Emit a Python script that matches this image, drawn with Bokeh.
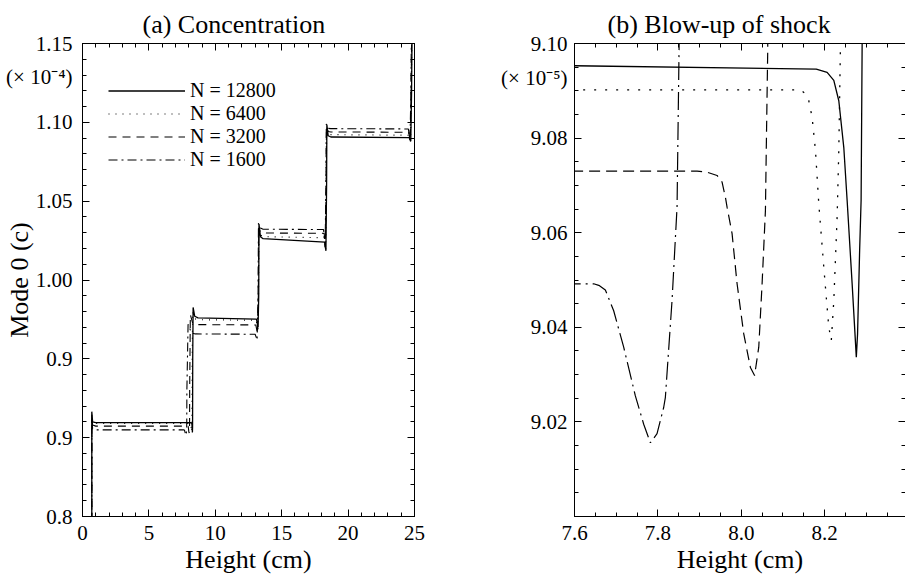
from bokeh.plotting import figure
from bokeh.models import (ColumnDataSource, Legend, LegendItem, LinearAxis, FixedTicker,
                          PrintfTickFormatter)
from bokeh.layouts import row
from bokeh.embed import file_html
from bokeh.resources import INLINE

# ---------------- data (concentration in units of 1e-4) ----------------
height_12800 = [0.00, 0.70, 0.70, 0.76, 1.00, 7.60, 8.18, 8.206, 8.222, 8.234, 8.246, 8.254, 8.266,
                8.276, 8.279, 8.284, 8.2875, 8.290, 8.300, 8.33, 8.45, 8.70, 13.10, 13.22, 13.27,
                13.29, 13.40, 13.60, 18.25, 18.33, 18.38, 18.40, 18.50, 18.70, 24.60, 24.72, 24.78,
                24.82, 25.00]
conc_12800 = [0.8000, 0.8000, 0.9165, 0.9100, 0.90960, 0.90953, 0.90946, 0.90939, 0.90922, 0.90879,
              0.90780, 0.90668, 0.90492, 0.90337, 0.90386, 0.90563, 0.90668, 0.9100, 0.9500, 0.9826,
              0.9770, 0.9760, 0.9752, 0.9700, 0.9900, 1.0355, 1.0275, 1.0262, 1.0240, 1.0185, 1.0600,
              1.0985, 1.0915, 1.0907, 1.0903, 1.0880, 1.1200, 1.1600, 1.1600]

height_6400 = [0.00, 0.70, 0.70, 0.76, 1.00, 7.60, 8.142, 8.154, 8.162, 8.170, 8.178, 8.186, 8.198,
               8.210, 8.216, 8.222, 8.230, 8.234, 8.238, 8.26, 8.30, 8.45, 8.70, 13.08, 13.20, 13.25,
               13.28, 13.40, 13.60, 18.22, 18.31, 18.36, 18.38, 18.50, 18.70, 24.58, 24.70, 24.76,
               24.80, 25.00]
conc_6400 = [0.8000, 0.8000, 0.9150, 0.9095, 0.90905, 0.90902, 0.90902, 0.90894, 0.90879, 0.90844,
             0.90774, 0.90661, 0.90527, 0.90400, 0.90372, 0.90456, 0.90633, 0.90774, 0.9100, 0.9500,
             0.9800, 0.9755, 0.9748, 0.9745, 0.9690, 0.9900, 1.0340, 1.0285, 1.0275, 1.0268, 1.0190,
             1.0600, 1.0975, 1.0928, 1.0922, 1.0918, 1.0880, 1.1200, 1.1600, 1.1600]

height_3200 = [0.00, 0.70, 0.70, 0.76, 1.00, 7.60, 7.894, 7.918, 7.942, 7.954, 7.962, 7.966, 7.978,
               7.990, 8.006, 8.022, 8.032, 8.042, 8.050, 8.058, 8.060, 8.0635, 8.07, 8.12, 8.30, 8.60,
               13.05, 13.18, 13.24, 13.27, 13.40, 13.60, 18.20, 18.29, 18.35, 18.37, 18.50, 18.70,
               24.56, 24.68, 24.75, 24.79, 25.00]
conc_3200 = [0.8000, 0.8000, 0.9140, 0.9080, 0.90732, 0.90730, 0.90730, 0.90728, 0.90721, 0.90707,
             0.90675, 0.90654, 0.90598, 0.90492, 0.90386, 0.90315, 0.90298, 0.90358, 0.90492, 0.90647,
             0.90774, 0.90985, 0.9300, 0.9780, 0.9725, 0.9717, 0.9715, 0.9660, 0.9900, 1.0330, 1.0305,
             1.0298, 1.0296, 1.0200, 1.0600, 1.0970, 1.0942, 1.0939, 1.0937, 1.0880, 1.1200, 1.1600,
             1.1600]

height_1600 = [0.00, 0.70, 0.70, 0.76, 1.00, 7.60, 7.646, 7.660, 7.674, 7.694, 7.718, 7.746, 7.766,
               7.782, 7.798, 7.814, 7.818, 7.834, 7.846, 7.851, 7.86, 7.95, 8.20, 8.50, 13.00, 13.15,
               13.22, 13.25, 13.40, 13.60, 18.15, 18.27, 18.33, 18.36, 18.50, 18.70, 24.54, 24.66,
               24.73, 24.77, 25.00]
conc_1600 = [0.8000, 0.8000, 0.9130, 0.9060, 0.90495, 0.90492, 0.90492, 0.90488, 0.90479, 0.90435,
             0.90358, 0.90255, 0.90195, 0.90156, 0.90175, 0.90231, 0.90252, 0.90457, 0.90654, 0.9100,
             0.9300, 0.9720, 0.9665, 0.9658, 0.9656, 0.9620, 0.9900, 1.0360, 1.0330, 1.0322, 1.0320,
             1.0210, 1.0600, 1.0990, 1.0962, 1.0960, 1.0958, 1.0880, 1.1200, 1.1600, 1.1600]

series_labels = ["N = 12800", "N = 6400", "N = 3200", "N = 1600"]

left_xticks = [0, 5, 10, 15, 20, 25]
left_yticks = [0.85, 0.90, 0.95, 1.00, 1.05, 1.10, 1.15]
left_ytick_labels = ["0.8", "0.9", "0.9", "1.00", "1.05", "1.10", "1.15"]
right_yticks = [9.00, 9.02, 9.04, 9.06, 9.08, 9.10]
right_ytick_labels = ["", "9.02", "9.04", "9.06", "9.08", "9.10"]
right_xticks = [7.6, 7.8, 8.0, 8.2]

# ---------------- styling ----------------
SERIF = "Liberation Serif"
styles = [dict(line_dash="solid", line_width=1.3),
          dict(line_dash="1 6", line_width=1.2),
          dict(line_dash="8 6", line_width=1.1),
          dict(line_dash="9 4 2 4", line_width=1.1)]
styles_right = [dict(line_dash="solid", line_width=1.3),
                dict(line_dash="2 9", line_width=1.3),
                dict(line_dash="11 6", line_width=1.2),
                dict(line_dash="18 5 2 5", line_width=1.2)]

sources = []
for h, c in [(height_12800, conc_12800), (height_6400, conc_6400),
             (height_3200, conc_3200), (height_1600, conc_1600)]:
    sources.append(ColumnDataSource(data=dict(h=h, c4=c, c5=[v * 10 for v in c])))


def add_tick_axes(p, side, majors, minors, line=True):
    """Two label-free axes: minor ticks (short) and major ticks (long), both pointing inward."""
    for pos, length, show_line in ((minors, 4, line), (majors, 7, False)):
        ax = LinearAxis(ticker=FixedTicker(ticks=[], minor_ticks=pos))
        ax.major_tick_in = 0
        ax.major_tick_out = 0
        ax.minor_tick_in = length
        ax.minor_tick_out = 0
        ax.major_label_standoff = 0
        ax.minor_tick_line_color = "black"
        ax.axis_line_color = "black" if show_line else None
        p.add_layout(ax, side)


def add_label_axis(p, side, ticks, labels, standoff, axis_label=None, label_standoff=0, fmt=None):
    ax = LinearAxis(ticker=FixedTicker(ticks=ticks, minor_ticks=[]))
    if fmt is not None:
        ax.formatter = PrintfTickFormatter(format=fmt)
    if labels is not None:
        ax.major_label_overrides = dict(zip(ticks, labels))
    ax.major_tick_in = 0
    ax.major_tick_out = 0
    ax.minor_tick_in = 0
    ax.minor_tick_out = 0
    ax.major_tick_line_color = None
    ax.axis_line_color = None
    ax.major_label_text_font = SERIF
    ax.major_label_text_font_size = "21px"
    ax.major_label_text_color = "black"
    ax.major_label_standoff = standoff
    if axis_label:
        ax.axis_label = axis_label
        ax.axis_label_text_font = SERIF
        ax.axis_label_text_font_size = "26px"
        ax.axis_label_text_font_style = "normal"
        ax.axis_label_text_color = "black"
        ax.axis_label_standoff = label_standoff
    p.add_layout(ax, side)


def style_fig(p, title, offset):
    p.title.text = title
    p.title.text_font = SERIF
    p.title.text_font_size = "26px"
    p.title.text_font_style = "normal"
    p.title.text_color = "black"
    p.title.align = "left"
    p.title.offset = offset
    p.title.standoff = 10
    p.xgrid.visible = False
    p.ygrid.visible = False
    p.background_fill_color = "white"
    p.border_fill_color = "white"


# ---------------- left panel ----------------
p1 = figure(width=455, height=577, x_range=(0, 25), y_range=(0.85, 1.15),
            x_axis_location=None, y_axis_location=None,
            output_backend="svg", toolbar_location=None,
            min_border_left=82, min_border_right=41, min_border_top=43, min_border_bottom=61)
style_fig(p1, "(a) Concentration", 60)
p1.outline_line_color = "black"

x1_minor = [float(v) for v in range(26)]
y1_minor = [round(0.85 + 0.01 * i, 2) for i in range(31)]
add_tick_axes(p1, "below", left_xticks, x1_minor)
add_tick_axes(p1, "left", left_yticks, y1_minor)
add_tick_axes(p1, "above", left_xticks, x1_minor)
add_tick_axes(p1, "right", left_yticks, y1_minor)
add_label_axis(p1, "below", left_xticks, None, 9, "Height (cm)", 2)
add_label_axis(p1, "left", left_yticks + [1.129], left_ytick_labels + ["(× 10⁻⁴)"], 10,
               "Mode 0 (c)", -31)

renderers = []
for src, st in zip(sources, styles):
    renderers.append(p1.line("h", "c4", source=src, line_color="black", **st))

legend = Legend(items=[LegendItem(label=lab, renderers=[r]) for lab, r in zip(series_labels, renderers)],
                location=(26, 345), margin=0, padding=0, spacing=0,
                glyph_width=77, glyph_height=23, label_height=23, label_standoff=5,
                label_text_font=SERIF, label_text_font_size="20px", label_text_color="black",
                border_line_alpha=0, background_fill_alpha=0)
p1.add_layout(legend)

# ---------------- right panel ----------------
p2 = figure(width=450, height=577, x_range=(7.6, 8.394), y_range=(9.0, 9.1),
            x_axis_location=None, y_axis_location=None,
            output_backend="svg", toolbar_location=None,
            min_border_left=119, min_border_right=0, min_border_top=43, min_border_bottom=61)
style_fig(p2, "(b) Blow-up of shock", 33)
p2.outline_line_color = None

x2_minor = [round(7.6 + 0.05 * i, 2) for i in range(16)]
y2_minor = [round(9.0 + 0.005 * i, 3) for i in range(21)]
add_tick_axes(p2, "below", right_xticks, x2_minor)
add_tick_axes(p2, "left", right_yticks, y2_minor)
add_tick_axes(p2, "above", right_xticks, x2_minor)
add_tick_axes(p2, "right", right_yticks, y2_minor, line=False)
add_label_axis(p2, "below", right_xticks, None, 9, "Height (cm)", 2, fmt="%.1f")
add_label_axis(p2, "left", right_yticks[1:] + [9.0928], right_ytick_labels[1:] + ["(× 10⁻⁵)"], 7,
               fmt="%.2f")

for src, st in zip(sources, styles_right):
    p2.line("h", "c5", source=src, line_color="black", **st)

layout = row(p1, p2)
open("out.html", "w").write(file_html(layout, INLINE))
